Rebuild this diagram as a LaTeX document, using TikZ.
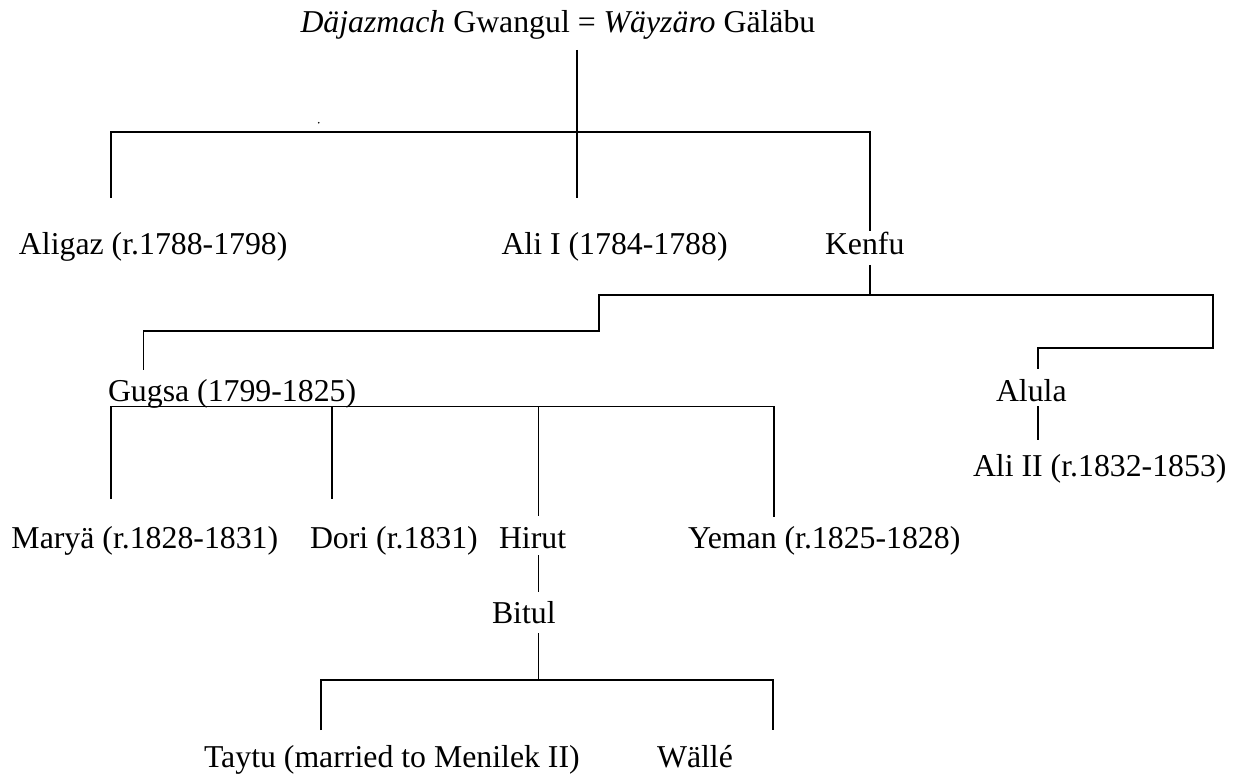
\documentclass[tikz,border=0pt]{standalone}
\usepackage{fontspec}
\setmainfont{Liberation Serif}
\begin{document}
\begin{tikzpicture}[x=1pt,y=-1pt,
  lbl/.style={inner sep=0pt,outer sep=0pt,anchor=base west,font=\fontsize{31.8}{38}\selectfont},
  link/.style={line width=1.3pt,black}]
\useasboundingbox (0,0) rectangle (1234,775);
% people
\node[lbl] (top) at (300.5,33) {\textit{Däjazmach} Gwangul = \textit{Wäyzäro} Gäläbu};
\node[lbl] (aligaz) at (19,254.5) {Aligaz (r.1788-1798)};
\node[lbl] (ali1) at (501.5,254.5) {Ali I (1784-1788)};
\node[lbl] (kenfu) at (825,254.5) {Kenfu};
\node[lbl] (gugsa) at (108,402) {Gugsa (1799-1825)};
\node[lbl] (alula) at (996,401) {Alula};
\node[lbl] (ali2) at (973,476) {Ali II (r.1832-1853)};
\node[lbl] (marya) at (11.5,548) {Maryä (r.1828-1831)};
\node[lbl] (dori) at (310,548) {Dori (r.1831)};
\node[lbl] (hirut) at (499,548) {Hirut};
\node[lbl] (yeman) at (688,548) {Yeman (r.1825-1828)};
\node[lbl] (bitul) at (492,623) {Bitul};
\node[lbl] (taytu) at (204,767.5) {Taytu (married to Menilek II)};
\node[lbl] (walle) at (657,767.5) {Wällé};
% connector end points
\coordinate (topB) at (577,50);
\coordinate (aligazT) at (111,198);
\coordinate (ali1T) at (577,198);
\coordinate (kenfuT) at (870,231);
\coordinate (kenfuB) at (870,265);
\coordinate (gugsaT) at (143.5,370);
\coordinate (alulaT) at (1038,369);
\coordinate (alulaB) at (1038,406);
\coordinate (ali2T) at (1038,440);
\coordinate (gugsaB) at (111,406.7);
\coordinate (maryaT) at (111,499);
\coordinate (doriT) at (332,499);
\coordinate (hirutT) at (538.5,516);
\coordinate (yemanT) at (774,517);
\coordinate (hirutB) at (538.5,555);
\coordinate (bitulT) at (538.5,592);
\coordinate (bitulB) at (538.5,633);
\coordinate (taytuT) at (321,730);
\coordinate (walleT) at (773,730);
% generation 1
\draw[link] (topB) -- (ali1T);
\draw[link] (aligazT) -- (111,132) -- (870,132) -- (kenfuT);
% Kenfu's children
\draw[link] (kenfuB) -- (870,295) -- (599,295) -- (599,331) -- (143.5,331) -- (gugsaT);
\draw[link] (870,295) -- (1213,295) -- (1213,348) -- (1038,348) -- (alulaT);
\draw[link] (alulaB) -- (ali2T);
% Gugsa's children
\draw[link] (maryaT) -- (gugsaB) -- (774,406.7) -- (yemanT);
\draw[link] (332,406.7) -- (doriT);
\draw[link] (538.5,406.7) -- (hirutT);
% Hirut - Bitul - children
\draw[link] (hirutB) -- (bitulT);
\draw[link] (bitulB) -- (538.5,680);
\draw[link] (taytuT) -- (321,680) -- (773,680) -- (walleT);
% stray dot
\fill (318.7,122.7) circle (0.9);
\end{tikzpicture}
\end{document}
